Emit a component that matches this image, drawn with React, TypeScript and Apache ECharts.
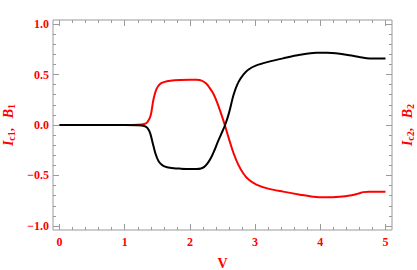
import React, { useEffect, useRef } from "react";
import * as echarts from "echarts";

const blackX = [0, 1.0, 1.2, 1.3, 1.35, 1.39, 1.43, 1.47, 1.52, 1.58, 1.65, 1.75, 1.85, 2.0, 2.1, 2.17, 2.22, 2.27, 2.32, 2.37, 2.42, 2.48, 2.54, 2.6, 2.67, 2.74, 2.82, 2.9, 3.02, 3.2, 3.43, 3.69, 3.94, 4.1, 4.3, 4.45, 4.58, 4.71, 4.8, 5.0];
const blackY = [0, 0, -0.002, -0.01, -0.03, -0.08, -0.18, -0.28, -0.36, -0.4, -0.418, -0.428, -0.432, -0.435, -0.435, -0.43, -0.415, -0.38, -0.33, -0.26, -0.18, -0.09, 0.0, 0.12, 0.3, 0.42, 0.5, 0.55, 0.59, 0.625, 0.66, 0.695, 0.715, 0.715, 0.705, 0.69, 0.675, 0.662, 0.658, 0.658];

const redX = [0, 1.0, 1.2, 1.3, 1.35, 1.4, 1.44, 1.49, 1.55, 1.6, 1.7, 1.85, 2.0, 2.1, 2.18, 2.25, 2.3, 2.36, 2.42, 2.48, 2.54, 2.6, 2.67, 2.74, 2.82, 2.9, 3.02, 3.2, 3.43, 3.69, 3.89, 4.07, 4.3, 4.48, 4.58, 4.66, 4.75, 5.0];
const redY = [0, 0, 0.002, 0.01, 0.03, 0.1, 0.25, 0.36, 0.41, 0.425, 0.438, 0.445, 0.447, 0.447, 0.44, 0.41, 0.37, 0.31, 0.22, 0.11, -0.01, -0.14, -0.28, -0.39, -0.48, -0.54, -0.59, -0.63, -0.66, -0.69, -0.71, -0.716, -0.71, -0.695, -0.68, -0.665, -0.66, -0.66];

const xMajor = [0, 1, 2, 3, 4, 5];
const xMinor = [0.2, 0.4, 0.6, 0.8, 1.2, 1.4, 1.6, 1.8, 2.2, 2.4, 2.6, 2.8, 3.2, 3.4, 3.6, 3.8, 4.2, 4.4, 4.6, 4.8];
const yMajor = [-1, -0.5, 0, 0.5, 1];
const yMinor = [-0.9, -0.8, -0.7, -0.6, -0.4, -0.3, -0.2, -0.1, 0.1, 0.2, 0.3, 0.4, 0.6, 0.7, 0.8, 0.9];

const RED = "#ff0000";
const GRAY = "#9a9a9a";
const FONT = "Liberation Serif";

export default function App() {
  const ref = useRef<HTMLDivElement>(null);
  useEffect(() => {
    if (!ref.current) return;
    const chart = echarts.init(ref.current, undefined, { renderer: "svg" });
    const xRange = { min: -0.1, max: 5.1 };
    const yRange = { min: -1.04, max: 1.04 };
    const nameRich = {
      i: { fontStyle: "italic", fontWeight: "bold", fontSize: 14, color: RED, fontFamily: FONT },
      sub: { fontStyle: "normal", fontWeight: "bold", fontSize: 10, color: RED, fontFamily: FONT, padding: [6, 0, 0, 0] },
      n: { fontWeight: "bold", fontSize: 13, color: RED, fontFamily: FONT },
    };
    const mkX = (pos: "bottom" | "top", vals: number[], len: number, labels: boolean, extra: any = {}) => ({
      type: "value",
      position: pos,
      ...xRange,
      axisLine: { show: false, onZero: false },
      splitLine: { show: false },
      axisTick: { show: true, inside: true, length: len, customValues: vals, lineStyle: { color: GRAY, width: 1 } },
      axisLabel: {
        show: labels,
        customValues: vals,
        color: RED,
        fontWeight: "bold",
        fontFamily: FONT,
        fontSize: 12,
        margin: 6,
        formatter: (v: number) => String(Math.round(v)),
      },
      ...extra,
    });
    const mkY = (pos: "left" | "right", vals: number[], len: number, labels: boolean, extra: any = {}) => ({
      type: "value",
      position: pos,
      ...yRange,
      axisLine: { show: false, onZero: false },
      splitLine: { show: false },
      axisTick: { show: true, inside: true, length: len, customValues: vals, lineStyle: { color: GRAY, width: 1 } },
      axisLabel: {
        show: labels,
        customValues: vals,
        color: RED,
        fontWeight: "bold",
        fontFamily: FONT,
        fontSize: 12,
        margin: 4,
        formatter: (v: number) => v.toFixed(1).replace("-", "\u2212"),
      },
      ...extra,
    });
    chart.setOption({
      animation: false,
      grid: {
        left: 53, right: 25, top: 20, bottom: 40,
        containLabel: false,
        outerBoundsMode: "none",
        show: true, borderColor: GRAY, borderWidth: 1,
      },
      xAxis: [
        mkX("bottom", xMajor, 6, true, {
          name: "V",
          nameLocation: "middle",
          nameGap: 26,
          nameTextStyle: { color: RED, fontWeight: "bold", fontFamily: FONT, fontSize: 14 },
        }),
        mkX("bottom", xMinor, 3, false),
        mkX("top", xMajor, 6, false),
        mkX("top", xMinor, 3, false),
      ],
      yAxis: [
        mkY("left", yMajor, 6, true, {
          name: "{i|I}{sub|c1}{n|,   }{i|B}{sub|1}",
          nameLocation: "middle",
          nameGap: 24,
          nameTextStyle: { rich: nameRich },
        }),
        mkY("left", yMinor, 3, false),
        mkY("right", yMajor, 6, false, {
          name: "{i|I}{sub|c2}{n|,   }{i|B}{sub|2}",
          nameLocation: "middle",
          nameGap: 7,
          nameRotate: 90,
          nameTextStyle: { rich: nameRich },
        }),
        mkY("right", yMinor, 3, false),
      ],
      series: [
        {
          type: "line",
          xAxisIndex: 0,
          yAxisIndex: 0,
          data: redX.map((x, i) => [x, redY[i]]),
          showSymbol: false,
          smooth: 0.3,
          lineStyle: { color: RED, width: 2 },
          itemStyle: { color: RED },
        },
        {
          type: "line",
          xAxisIndex: 0,
          yAxisIndex: 0,
          data: blackX.map((x, i) => [x, blackY[i]]),
          showSymbol: false,
          smooth: 0.3,
          lineStyle: { color: "#000000", width: 2 },
          itemStyle: { color: "#000000" },
        },
      ],
    });
    return () => chart.dispose();
  }, []);
  return <div ref={ref} style={{ position: "absolute", left: 0, top: 0, width: 417, height: 270 }} />;
}
